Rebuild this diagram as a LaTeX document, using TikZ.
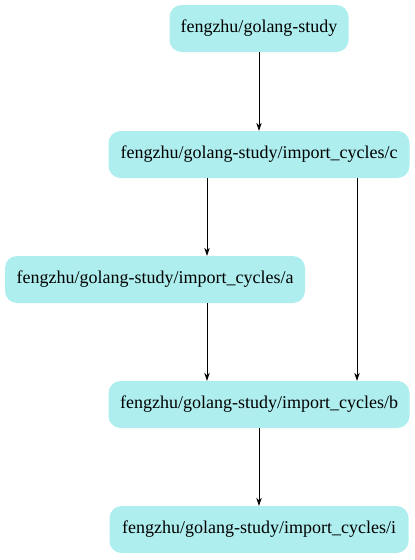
\documentclass[tikz,border=0pt]{standalone}
\usepackage{fontspec}
\setmainfont{Liberation Serif}
\usetikzlibrary{arrows.meta}
\definecolor{pkgfill}{RGB}{175,238,238}
\tikzset{
  pkg/.style={fill=pkgfill, rounded corners=12pt, minimum height=47pt, minimum width=301pt, inner xsep=0pt, font=\fontsize{18pt}{20pt}\selectfont},
  dep/.style={-{Stealth[length=8pt,width=5.5pt]}, line width=0.7pt}
}
\begin{document}
\begin{tikzpicture}[x=1pt,y=-1pt]
\useasboundingbox (0,0) rectangle (415,560);
\node[pkg, minimum width=179pt] (root) at (259,28.5) {fengzhu/golang-study};
\node[pkg] (c) at (259,154.5) {fengzhu/golang-study/import\_cycles/c};
\node[pkg, minimum width=300pt] (a) at (155,279.5) {fengzhu/golang-study/import\_cycles/a};
\node[pkg] (b) at (259,404.5) {fengzhu/golang-study/import\_cycles/b};
\node[pkg, minimum width=299pt] (i) at (259,529.5) {fengzhu/golang-study/import\_cycles/i};
% edges
\draw[dep] (root.south) -- (c.north);
\draw[dep] ([xshift=-52pt]c.south) -- ([xshift=52pt]a.north);
\draw[dep] ([xshift=98pt]c.south) -- ([xshift=98pt]b.north);
\draw[dep] ([xshift=52pt]a.south) -- ([xshift=-52pt]b.north);
\draw[dep] (b.south) -- (i.north);
\end{tikzpicture}
\end{document}
